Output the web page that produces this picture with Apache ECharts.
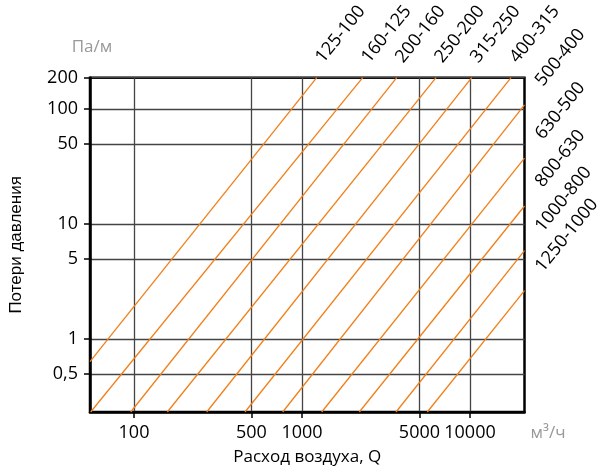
<!DOCTYPE html>
<html>
<head>
<meta charset="utf-8">
<script src="https://cdn.jsdelivr.net/npm/echarts@6/dist/echarts.min.js"></script>
<style>
  html, body { margin: 0; padding: 0; background: #fff; }
  #chart { width: 603px; height: 473px; }
</style>
</head>
<body>
<div id="chart"></div>
<script>
// Axis ranges (air flow Q, m3/h ; pressure loss, Pa/m)
const xMin = 54.7;
const xMax = 21100;
const yMin = 0.233;
const yMax = 188;

// Tick values and labels
const xTickValues = [100, 500, 1000, 5000, 10000];
const xTickLabels = ['100', '500', '1000', '5000', '10000'];
const yTickValues = [0.5, 1, 5, 10, 50, 100, 188];
const yTickLabels = ['0,5', '1', '5', '10', '50', '100', '200'];

// Duct transition lines: start point and end point
const lineLabels = ['125-100', '160-125', '200-160', '250-200', '315-250', '400-315',
                    '500-400', '630-500', '800-630', '1000-800', '1250-1000'];
const lineStartQ = [54.7, 55.2, 95.6, 157.8, 270.8, 458, 767.6, 1310, 2193, 3626, 5568];
const lineStartP = [0.638, 0.233, 0.233, 0.233, 0.233, 0.233, 0.233, 0.233, 0.233, 0.233, 0.233];
const lineEndQ   = [1223, 2296, 3662, 6276, 10235, 17540, 21100, 21100, 21100, 21100, 21100];
const lineEndP   = [188, 188, 188, 188, 188, 188, 109, 37.5, 14.4, 5.89, 2.65];

function nearestLabel(v, vals, labels) {
  let best = 0, bd = Infinity;
  for (let i = 0; i < vals.length; i++) {
    const d = Math.abs(Math.log10(v) - Math.log10(vals[i]));
    if (d < bd) { bd = d; best = i; }
  }
  return bd < 0.01 ? labels[best] : '';
}

const orange = '#f07f1a';
const series = lineLabels.map((name, i) => {
  const onRight = lineEndQ[i] >= xMax;
  return {
    name: name,
    type: 'line',
    symbol: 'circle',
    symbolSize: 1,
    showSymbol: true,
    silent: true,
    itemStyle: { color: 'rgba(0,0,0,0)' },
    lineStyle: { color: orange, width: 1.3 },
    data: [
      [lineStartQ[i], lineStartP[i]],
      {
        value: [lineEndQ[i], lineEndP[i]],
        label: {
          show: true,
          formatter: '{a}',
          rotate: 51,
          position: onRight ? [22, -15] : [10, -11],
          align: 'left',
          verticalAlign: 'bottom',
          color: '#000',
          fontSize: 18,
          fontFamily: 'Open Sans'
        }
      }
    ]
  };
});

const chart = echarts.init(document.getElementById('chart'), null, { renderer: 'canvas' });
chart.setOption({
  animation: false,
  backgroundColor: '#fff',
  grid: {
    left: 90, right: 78.5, top: 77.7, bottom: 61,
    show: true, borderColor: '#000', borderWidth: 2.5,
    outerBoundsMode: 'none', containLabel: false
  },
  xAxis: {
    type: 'log', logBase: 10, min: xMin, max: xMax,
    name: 'Расход воздуха, Q', nameLocation: 'middle', nameGap: 37,
    nameTextStyle: { fontSize: 17, color: '#000', fontFamily: 'Open Sans' },
    axisLine: { show: true, lineStyle: { color: '#000', width: 2.5 } },
    axisTick: { show: true, length: 6, customValues: xTickValues, lineStyle: { color: '#000', width: 1.5 } },
    axisLabel: {
      customValues: xTickValues, margin: 12, fontSize: 18, color: '#000', fontFamily: 'Open Sans',
      formatter: v => nearestLabel(v, xTickValues, xTickLabels)
    },
    splitLine: { show: true, lineStyle: { color: '#444', width: 1.3 } },
    minorTick: { show: false }, minorSplitLine: { show: false }
  },
  yAxis: {
    type: 'log', logBase: 10, min: yMin, max: yMax,
    name: 'Потери давления', nameLocation: 'middle', nameGap: 65, nameRotate: 90,
    nameTextStyle: { fontSize: 17, color: '#000', fontFamily: 'Liberation Sans' },
    axisLine: { show: true, lineStyle: { color: '#000', width: 2.5 } },
    axisTick: { show: true, length: 6, customValues: yTickValues, lineStyle: { color: '#000', width: 1.5 } },
    axisLabel: {
      customValues: yTickValues, margin: 12, fontSize: 18, color: '#000', fontFamily: 'Open Sans',
      formatter: v => nearestLabel(v, yTickValues, yTickLabels)
    },
    splitLine: { show: true, lineStyle: { color: '#444', width: 1.3 } },
    minorTick: { show: false }, minorSplitLine: { show: false }
  },
  graphic: [
    { type: 'text', x: 92, y: 47, style: { text: 'Па/м', fill: '#999', font: '17px "Open Sans"', align: 'center', verticalAlign: 'middle' } },
    { type: 'text', x: 548, y: 433, style: { text: 'м³/ч', fill: '#999', font: '17px "Open Sans"', align: 'center', verticalAlign: 'middle' } }
  ],
  series: series
});
</script>
</body>
</html>
